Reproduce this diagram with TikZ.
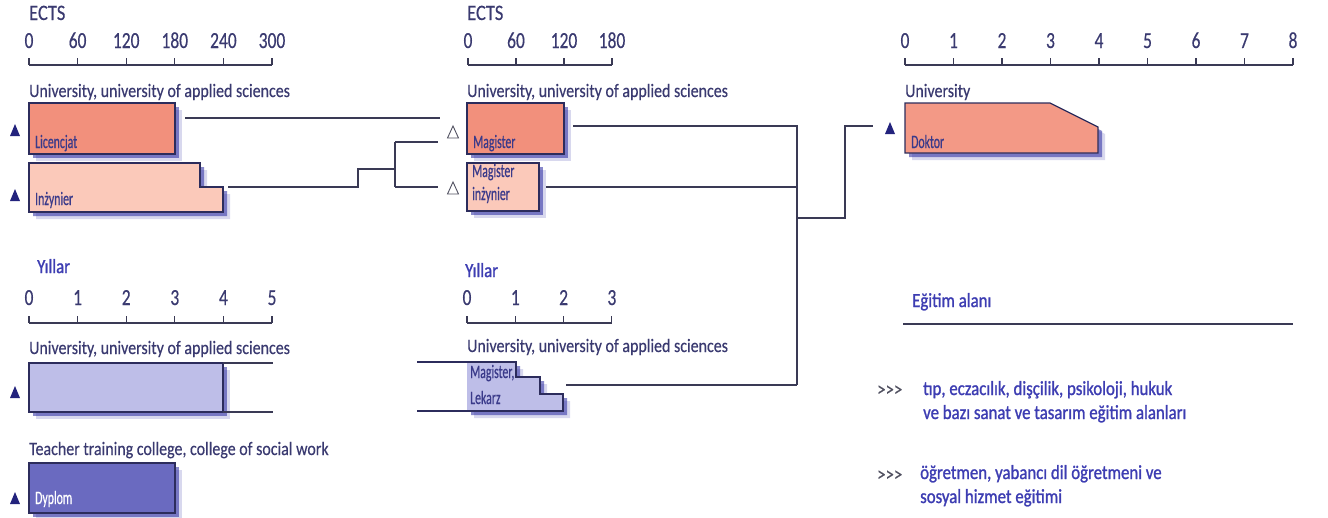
\documentclass[tikz,border=0pt]{standalone}
\usepackage{fontspec}
\setmainfont{Carlito}
\newfontfamily\cond[FakeStretch=0.84,FakeBold=0.4]{Carlito}
\newfontfamily\condb[FakeStretch=0.84,FakeBold=1.2]{Carlito}
\newfontfamily\tickfont[FakeStretch=0.76,FakeBold=0.4]{Carlito}
\newfontfamily\boxfont[FakeStretch=0.62,FakeBold=0.5]{Carlito}
\definecolor{navy}{HTML}{3A3A70}
\definecolor{brightblue}{HTML}{3D3DB2}
\definecolor{linec}{HTML}{3A3A55}
\definecolor{salmon}{HTML}{F2907C}
\definecolor{peach}{HTML}{FBC9BA}
\definecolor{lav}{HTML}{BEBEE8}
\definecolor{violet}{HTML}{6A6AC0}
\definecolor{edgec}{HTML}{2C2C5C}
\definecolor{shadowc}{HTML}{2828A0}
\definecolor{boxtext}{HTML}{3A3A8A}
\definecolor{grayc}{HTML}{505060}
\newcommand\shadowbox[2]{%
  \fill[shadowc, opacity=0.18, shift={(7,7)}] #2;
  \fill[shadowc, opacity=0.55, shift={(4,4)}] #2;
  \filldraw[fill=#1, boxline] #2;}
\tikzset{
  lbl/.style={font=\cond\fontsize{19}{21}\selectfont, text=navy, inner sep=0pt, anchor=base west},
  hdlbl/.style={font=\cond\fontsize{22}{24}\selectfont, text=navy, inner sep=0pt, anchor=base west},
  blbl/.style={font=\condb\fontsize{20}{22}\selectfont, text=brightblue, inner sep=0pt, anchor=base west},
  ticklbl/.style={font=\tickfont\fontsize{23}{25}\selectfont, text=navy, inner sep=0pt, anchor=base},
  inlbl/.style={font=\boxfont\fontsize{19}{21}\selectfont, text=boxtext, inner sep=0pt, anchor=base west},
  arrlbl/.style={font=\cond\fontsize{20}{22}\selectfont, text=grayc, inner sep=0pt, anchor=base west},
  conn/.style={draw=linec, line width=1.2pt},
  boxline/.style={draw=edgec, line width=1.2pt},
  axisline/.style={draw=linec, line width=1.1pt},
  fulltri/.style={fill=edgec!80!blue},
  opentri/.style={draw=grayc, line width=0.9pt, fill=white},
}
\newcommand\ftri[2]{\fill[fulltri] (#1-5,#2+6) -- (#1+5,#2+6) -- (#1,#2-6) -- cycle;}
\newcommand\otri[2]{\draw[opentri] (#1-5.5,#2+6) -- (#1+5.5,#2+6) -- (#1,#2-6) -- cycle;}
\begin{document}
\begin{tikzpicture}[x=1pt,y=-1pt]
\useasboundingbox (0,0) rectangle (1328,517);

% ===== Left ECTS axis =====
\node[hdlbl] (ectsA) at (29,20) {ECTS};
\draw[axisline] (29,65) -- (272,65);
\foreach \i/\t in {0/0,1/60,2/120,3/180,4/240,5/300}{
  \draw[axisline] (29+48.6*\i,58) -- (29+48.6*\i,65);
  \node[ticklbl] (ta\i) at (29+48.6*\i,48) {\t};
}
\node[lbl] (uniA) at (29,97) {University, university of applied sciences};

% Licencjat
\shadowbox{salmon}{(29,103) rectangle (175,154)}
\node[inlbl] (lic) at (35,148) {Licencjat};
\ftri{15}{130}
\coordinate (licE) at (185,118);

% Inzynier
\shadowbox{peach}{(29,163) -- (200,163) -- (200,187) -- (223,187) -- (223,212) -- (29,212) -- cycle}
\node[inlbl] (inz) at (35,205) {Inżynier};
\ftri{15}{195}
\coordinate (inzE) at (228,187);

% ===== Middle ECTS axis =====
\node[hdlbl] (ectsB) at (467,20) {ECTS};
\draw[axisline] (468,65) -- (612,65);
\foreach \i/\t in {0/0,1/60,2/120,3/180}{
  \draw[axisline] (468+48*\i,58) -- (468+48*\i,65);
  \node[ticklbl] (tb\i) at (468+48*\i,48) {\t};
}
\node[lbl] (uniB) at (467,97) {University, university of applied sciences};

\shadowbox{salmon}{(467,103) rectangle (564,154)}
\node[inlbl] (mag) at (473,148) {Magister};
\shadowbox{peach}{(467,163) rectangle (539,211)}
\node[inlbl] (magi1) at (472,177) {Magister};
\node[inlbl] (magi2) at (472,200) {inżynier};
\otri{453}{132}
\otri{453}{188}

\coordinate (magW) at (440,118);
\coordinate (inzJa) at (358,187);
\coordinate (inzJb) at (358,169);
\coordinate (jn) at (395,169);
\coordinate (jnT) at (395,142);
\coordinate (jnB) at (395,187);
\coordinate (magWa) at (438,142);
\coordinate (magWb) at (438,187);
\draw[conn] (licE) -- (magW);
\draw[conn] (inzE) -- (inzJa) -- (inzJb) -- (jn);
\draw[conn] (jnT) -- (jnB);
\draw[conn] (jnT) -- (magWa);
\draw[conn] (jnB) -- (magWb);

% ===== Right axis =====
\draw[axisline] (905,65) -- (1293,65);
\foreach \i in {0,...,8}{
  \draw[axisline] (905+48.5*\i,58) -- (905+48.5*\i,65);
  \node[ticklbl] (tc\i) at (905+48.5*\i,48) {\i};
}
\node[lbl] (uniC) at (905,97) {University};
\shadowbox{salmon!92!white}{(905,103) -- (1050,103) -- (1098,127) -- (1098,153) -- (905,153) -- cycle}
\node[inlbl] (dok) at (911,148) {Doktor};
\ftri{890}{128}

% connectors middle -> right
\coordinate (magE) at (573,126);
\coordinate (magiE) at (546,187);
\coordinate (busT) at (797,126);
\coordinate (busM) at (797,187);
\coordinate (busJ) at (797,218);
\coordinate (busB) at (797,385);
\coordinate (k1) at (845,218);
\coordinate (k2) at (845,126);
\coordinate (dokW) at (873,126);
\draw[conn] (magE) -- (busT) -- (busB);
\draw[conn] (magiE) -- (busM);
\draw[conn] (busJ) -- (k1) -- (k2) -- (dokW);

% ===== Lower left (Yillar) =====
\node[blbl] (yilA) at (37,273) {Yıllar};
\draw[axisline] (29,323) -- (272,323);
\foreach \i in {0,...,5}{
  \draw[axisline] (29+48.6*\i,316) -- (29+48.6*\i,323);
  \node[ticklbl] (td\i) at (29+48.6*\i,305) {\i};
}
\node[lbl] (uniD) at (29,354) {University, university of applied sciences};
\shadowbox{lav}{(29,363) rectangle (223,412)}
\ftri{15}{392}
\coordinate (lavNE) at (223,363);
\coordinate (lavSE) at (223,412);
\coordinate (lavT) at (273,363);
\coordinate (lavB) at (273,412);
\draw[conn] (lavNE) -- (lavT);
\draw[conn] (lavSE) -- (lavB);

\node[lbl] (teach) at (29,455) {Teacher training college, college of social work};
\shadowbox{violet}{(29,463) rectangle (175,513)}
\node[inlbl, text=white] (dyp) at (35,504) {Dyplom};
\ftri{15}{498}

% ===== Lower middle =====
\node[blbl] (yilB) at (465,277) {Yıllar};
\draw[axisline] (467,323) -- (612,323);
\foreach \i in {0,...,3}{
  \draw[axisline] (467+48.3*\i,316) -- (467+48.3*\i,323);
  \node[ticklbl] (te\i) at (467+48.3*\i,305) {\i};
}
\node[lbl] (uniE) at (467,352) {University, university of applied sciences};
\fill[shadowc, opacity=0.18, shift={(7,7)}] (467,362) -- (516,362) -- (516,377) -- (540,377) -- (540,394) -- (563,394) -- (563,411) -- (467,411) -- cycle;
\fill[shadowc, opacity=0.55, shift={(4,4)}] (467,362) -- (516,362) -- (516,377) -- (540,377) -- (540,394) -- (563,394) -- (563,411) -- (467,411) -- cycle;
\fill[lav] (467,362) -- (516,362) -- (516,377) -- (540,377) -- (540,394) -- (563,394) -- (563,411) -- (467,411) -- cycle;
\draw[boxline] (417,362) -- (516,362) -- (516,377) -- (540,377) -- (540,394) -- (563,394) -- (563,411) -- (417,411);
\node[inlbl] (lek1) at (470,378) {Magister,};
\node[inlbl] (lek2) at (470,404) {Lekarz};
\coordinate (lekE) at (566,385);
\draw[conn] (lekE) -- (busB);

% ===== Right legend =====
\node[blbl] (egit) at (912,307) {Eğitim alanı};
\coordinate (egL) at (903,324);
\coordinate (egR) at (1293,324);
\draw[axisline] (egL) -- (egR);
\node[arrlbl] (arr1) at (877,396) {>>>};
\node[blbl] (leg1a) at (923,395) {tıp, eczacılık, dişçilik, psikoloji, hukuk};
\node[blbl] (leg1b) at (923,419) {ve bazı sanat ve tasarım eğitim alanları};
\node[arrlbl] (arr2) at (877,481) {>>>};
\node[blbl] (leg2a) at (920,479) {öğretmen, yabancı dil öğretmeni ve};
\node[blbl] (leg2b) at (920,503) {sosyal hizmet eğitimi};
\end{tikzpicture}
\end{document}
